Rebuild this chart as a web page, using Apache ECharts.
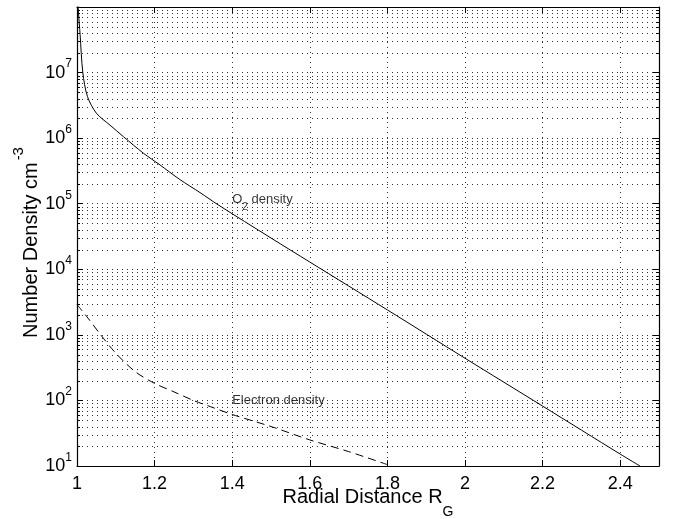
<!DOCTYPE html>
<html>
<head>
<meta charset="utf-8">
<script src="https://cdn.jsdelivr.net/npm/echarts@6/dist/echarts.min.js"></script>
<style>
  html, body { margin: 0; padding: 0; background: #fff; }
  #chart { width: 673px; height: 519px; }
</style>
</head>
<body>
<div id="chart"></div>
<script>
// O2 density profile
const o2Dist = [1.000, 1.004, 1.008, 1.015, 1.027, 1.05, 1.085, 1.12, 1.171, 1.214, 1.265, 1.317, 1.364, 1.5, 1.6, 1.8, 2.0, 2.2, 2.4, 2.451];
const o2Dens = [1.9e8, 8e7, 3.8e7, 1e7, 4.3e6, 2.4e6, 1.58e6, 1.05e6, 5.9e5, 3.9e5, 2.34e5, 1.48e5, 9.6e4, 3.0e4, 1.29e4, 2.4e3, 4.4e2, 8.2e1, 1.52e1, 1.0e1];

// electron density profile
const eDist = [1.0, 1.03, 1.06, 1.1, 1.15, 1.2, 1.25, 1.3, 1.35, 1.4, 1.5, 1.6, 1.7, 1.8];
const eDens = [2900, 1750, 1020, 525, 275, 182, 135, 100, 78, 61, 40, 25, 16.6, 10.5];

// text annotations
const noteDist = [1.4, 1.4];
const noteDens = [1.05e5, 100];
const noteText = ['{t|O}{sub|2}{t| density}', '{e|Electron density}'];

// axes
const xMin = 1, xMax = 2.5, xStep = 0.2;
const yMin = 10, yMax = 1e8;
const decades = [10, 100, 1e3, 1e4, 1e5, 1e6, 1e7];
const minorMult = [2, 3, 4, 5, 6, 7, 8, 9];

const font = 'Liberation Sans, Arial, Helvetica, sans-serif';
const gridDots = { color: '#333', width: 1, type: [1, 4] };

const minorVals = [];
decades.forEach(d => minorMult.forEach(m => minorVals.push([xMin, d * m])));

const chart = echarts.init(document.getElementById('chart'));

// minor log grid lines + small ticks on both sides
function renderMinor(params, api) {
  const v = api.value(1);
  const p = api.coord([xMin, v]);
  const q = api.coord([xMax, v]);
  const y = Math.round(p[1]) + 0.5;
  return {
    type: 'group',
    children: [
      { type: 'line', shape: { x1: p[0], y1: y, x2: q[0], y2: y }, style: { stroke: gridDots.color, lineWidth: 1, lineDash: gridDots.type } },
      { type: 'line', shape: { x1: p[0], y1: y, x2: p[0] + 3, y2: y }, style: { stroke: '#000', lineWidth: 1 } },
      { type: 'line', shape: { x1: q[0] - 3, y1: y, x2: q[0], y2: y }, style: { stroke: '#000', lineWidth: 1 } }
    ]
  };
}

const option = {
  backgroundColor: '#fff',
  animation: false,
  textStyle: { fontFamily: font },
  grid: { left: 77, right: 14, top: 7, bottom: 53, containLabel: false, outerBoundsMode: 'none' },
  xAxis: [{
    type: 'value', min: xMin, max: xMax, interval: xStep,
    position: 'bottom',
    axisLine: { lineStyle: { color: '#000', width: 1.2 } },
    axisTick: { inside: true, length: 6, lineStyle: { color: '#000' } },
    axisLabel: { color: '#000', fontSize: 18, margin: 9, showMaxLabel: false, fontFamily: font },
    splitLine: { show: true, lineStyle: gridDots },
    name: '{t|Radial Distance R}{sub|G}',
    nameLocation: 'middle', nameGap: 21, nameMoveOverlap: false,
    nameTextStyle: {
      rich: {
        t: { fontSize: 20, color: '#000', fontFamily: font, lineHeight: 22, verticalAlign: 'top' },
        sub: { fontSize: 14, color: '#000', fontFamily: font, lineHeight: 32, verticalAlign: 'bottom' }
      }
    }
  }, {
    type: 'value', min: xMin, max: xMax, interval: xStep,
    position: 'top',
    axisLine: { lineStyle: { color: '#000', width: 1.2 } },
    axisTick: { inside: true, length: 6, lineStyle: { color: '#000' } },
    axisLabel: { show: false },
    splitLine: { show: false }
  }],
  yAxis: [{
    type: 'log', logBase: 10, min: yMin, max: yMax, splitNumber: 7,
    position: 'left',
    axisLine: { lineStyle: { color: '#000', width: 1.2 } },
    axisTick: { inside: true, length: 6, lineStyle: { color: '#000' } },
    axisLabel: {
      showMaxLabel: false, margin: 5,
      formatter: v => '{b|10}{s|' + Math.round(Math.log10(v)) + '}',
      rich: {
        b: { fontSize: 18, color: '#000', fontFamily: font, lineHeight: 29, verticalAlign: 'middle' },
        s: { fontSize: 12, color: '#000', fontFamily: font, lineHeight: 12, verticalAlign: 'top' }
      }
    },
    splitLine: { show: true, lineStyle: gridDots },
    name: '{t|Number Density cm}{sup|-3}',
    nameLocation: 'middle', nameGap: 36, nameRotate: 90, nameMoveOverlap: false,
    nameTextStyle: {
      padding: [0, 12, 0, 0],
      rich: {
        t: { fontSize: 20, color: '#000', fontFamily: font, lineHeight: 30, verticalAlign: 'bottom' },
        sup: { fontSize: 15, color: '#000', fontFamily: font, lineHeight: 14, verticalAlign: 'top', padding: [0, 0, 0, 2] }
      }
    }
  }, {
    type: 'log', logBase: 10, min: yMin, max: yMax, splitNumber: 7,
    position: 'right',
    axisLine: { lineStyle: { color: '#000', width: 1.2 } },
    axisTick: { inside: true, length: 6, lineStyle: { color: '#000' } },
    axisLabel: { show: false },
    splitLine: { show: false }
  }],
  series: [{
    type: 'custom',
    silent: true,
    renderItem: renderMinor,
    data: minorVals,
    z: 1
  }, {
    name: 'O2 density',
    type: 'line',
    data: o2Dist.map((x, i) => [x, o2Dens[i]]),
    showSymbol: false, clip: true,
    smooth: 0.3,
    lineStyle: { color: '#000', width: 1 },
    z: 3
  }, {
    name: 'Electron density',
    type: 'line',
    data: eDist.map((x, i) => [x, eDens[i]]),
    showSymbol: false, clip: true,
    smooth: 0.3,
    lineStyle: { color: '#000', width: 1, type: [8, 5] },
    z: 3
  }, {
    type: 'scatter',
    silent: true,
    symbolSize: 0,
    data: noteDist.map((x, i) => [x, noteDens[i]]),
    label: {
      show: true, position: 'right', distance: 0,
      formatter: p => noteText[p.dataIndex],
      rich: {
        t: { fontSize: 13, color: '#000', fontFamily: font, lineHeight: 14, verticalAlign: 'top' },
        sub: { fontSize: 10, color: '#000', fontFamily: font, lineHeight: 19, verticalAlign: 'bottom' },
        e: { fontSize: 13, color: '#000', fontFamily: font, lineHeight: 14 }
      }
    },
    z: 4
  }]
};

chart.setOption(option);
</script>
</body>
</html>
